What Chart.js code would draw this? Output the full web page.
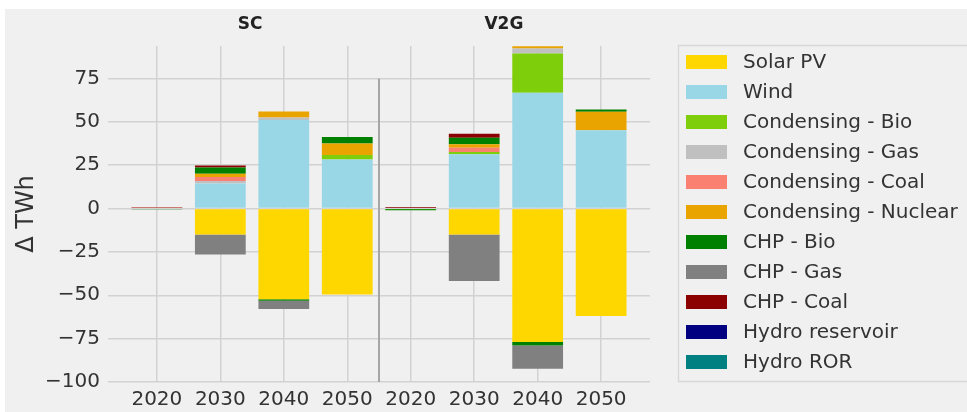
<!DOCTYPE html>
<html>
<head>
<meta charset="utf-8">
<script src="https://cdn.jsdelivr.net/npm/chart.js@4.4.1/dist/chart.umd.min.js"></script>
<style>
  html, body { margin: 0; padding: 0; background: #ffffff; }
  #wrap { position: absolute; left: 5px; top: 9px; width: 962px; height: 403px; background: #f0f0f0; }
</style>
</head>
<body>
<div id="wrap"><canvas id="chart"></canvas></div>
<script>
// x positions 0-3 = SC, 4-7 = V2G
const categories = ['2020', '2030', '2040', '2050', '2020', '2030', '2040', '2050'];
const scenarios = ['SC', 'V2G'];
const yTicks = [-100, -75, -50, -25, 0, 25, 50, 75];

// Delta TWh per technology, SC 2020..2050 then V2G 2020..2050
const solarPV        = [0, -15.0, -52.3, -49.5, 0, -15.0, -77.0, -62.0];
const wind           = [0, 14.4, 51.0, 28.3, 0, 31.3, 66.7, 45.2];
const condBio        = [0, 0, 0, 2.5, -0.3, 1.3, 22.7, 0];
const condGas        = [0, 1.5, 1.5, 0, 0, 0, 2.9, 0];
const condCoal       = [0.6, 2.3, 0, 0, 0.4, 2.5, 0, 0];
const condNuclear    = [0, 1.9, 3.5, 6.7, 0, 1.9, 1.3, 10.6];
const chpBio         = [-0.3, 3.5, -0.8, 3.8, -0.7, 3.8, -1.9, 1.3];
const chpGas         = [0, -11.5, -4.8, 0, 0, -26.8, -13.5, 0];
const chpCoal        = [0.3, 1.2, 0, 0, 0.5, 2.3, 0, 0];
const hydroReservoir = [0, 0, 0, 0, 0, 0, 0, 0];
const hydroROR       = [0, 0, 0, 0, 0, 0, 0, 0];

const seriesNames = ['Solar PV', 'Wind', 'Condensing - Bio', 'Condensing - Gas', 'Condensing - Coal',
  'Condensing - Nuclear', 'CHP - Bio', 'CHP - Gas', 'CHP - Coal', 'Hydro reservoir', 'Hydro ROR'];
const seriesValues = [solarPV, wind, condBio, condGas, condCoal, condNuclear,
  chpBio, chpGas, chpCoal, hydroReservoir, hydroROR];
const seriesColors = ['#ffd700', '#9ad7e6', '#7fce0b', '#c0c0c0', '#fa8072', '#eaa400',
  '#008000', '#808080', '#8b0000', '#000080', '#008080'];

const FONT = 'DejaVu Sans';

// panel titles, the divider between panels and the framed legend
const extras = {
  id: 'extras',
  beforeDatasetsDraw(chart) {
    const { ctx, scales: { x, y } } = chart;
    ctx.save();
    ctx.strokeStyle = '#a6a6a6';
    ctx.lineWidth = 2;
    const xs = x.getPixelForValue(3.5);
    ctx.beginPath();
    ctx.moveTo(xs, y.getPixelForValue(75));
    ctx.lineTo(xs, y.getPixelForValue(-100));
    ctx.stroke();
    ctx.restore();
  },
  afterDraw(chart) {
    const { ctx, scales: { x } } = chart;
    ctx.save();
    ctx.fillStyle = '#222';
    ctx.font = 'bold 17px "' + FONT + '"';
    ctx.textAlign = 'center';
    ctx.textBaseline = 'middle';
    scenarios.forEach((s, i) => {
      ctx.fillText(s, x.getPixelForValue(1.5 + 4 * i) - 2, 16);
    });

    // legend
    ctx.strokeStyle = '#d8d8d8';
    ctx.lineWidth = 1.3;
    ctx.fillStyle = '#f0f0f0';
    ctx.beginPath();
    ctx.rect(673.5, 36.5, 400, 336);
    ctx.fill();
    ctx.stroke();
    ctx.font = '20px "' + FONT + '"';
    ctx.textAlign = 'left';
    chart.data.datasets.forEach((ds, i) => {
      const cy = 53 + 30 * i;
      ctx.fillStyle = ds.backgroundColor;
      ctx.fillRect(681, cy - 7, 41, 14);
      ctx.fillStyle = '#333';
      ctx.fillText(ds.label, 738, cy + 1);
    });
    ctx.restore();
  }
};

new Chart(document.getElementById('chart'), {
  type: 'bar',
  data: {
    datasets: seriesNames.map((name, i) => ({
      label: name,
      data: seriesValues[i].map((v, j) => ({ x: j, y: v })),
      backgroundColor: seriesColors[i],
      borderWidth: 0,
      barPercentage: 0.8,
      categoryPercentage: 1.0
    }))
  },
  options: {
    responsive: true,
    maintainAspectRatio: false,
    animation: false,
    layout: { padding: { top: 37, right: 317, bottom: 0, left: 0 } },
    plugins: {
      legend: { display: false },
      tooltip: { enabled: false }
    },
    scales: {
      x: {
        type: 'linear',
        stacked: true,
        offset: false,
        min: -0.77,
        max: 7.77,
        afterBuildTicks: (scale) => { scale.ticks = categories.map((c, i) => ({ value: i })); },
        afterFit: (scale) => { scale.height = 30; },
        ticks: {
          autoSkip: false,
          maxRotation: 0,
          padding: 6,
          color: '#333',
          font: { family: FONT, size: 20 },
          callback: (value, index) => categories[index]
        },
        grid: { offset: false, color: '#d2d2d2', lineWidth: 1.5, drawTicks: false },
        border: { display: false }
      },
      y: {
        stacked: true,
        min: -100,
        max: 93.7,
        afterBuildTicks: (scale) => { scale.ticks = yTicks.map(v => ({ value: v })); },
        afterFit: (scale) => { scale.width = 103; },
        ticks: {
          padding: 8,
          color: '#333',
          font: { family: FONT, size: 20 },
          callback: (v) => v < 0 ? '\u2212' + Math.abs(v) : String(v)
        },
        title: {
          display: true,
          text: '\u0394 TWh',
          color: '#333',
          font: { family: FONT, size: 24 },
          padding: { top: 7, bottom: 0 }
        },
        grid: { color: '#d2d2d2', lineWidth: 1.5, drawTicks: false },
        border: { display: false }
      }
    }
  },
  plugins: [extras]
});
</script>
</body>
</html>
